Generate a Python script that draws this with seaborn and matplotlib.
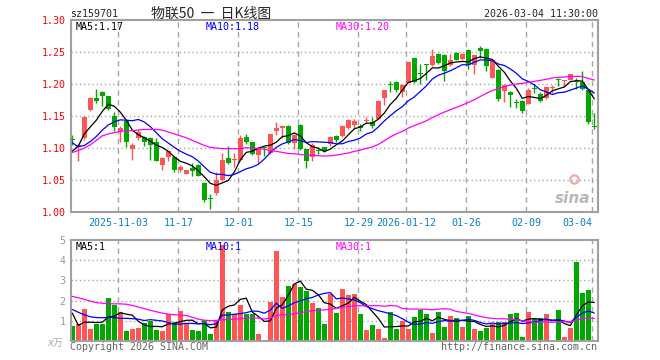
import pandas as pd
import numpy as np
import matplotlib

matplotlib.use("Agg")

import matplotlib.pyplot as plt
import seaborn as sns

# trading days shown (exchange holidays removed)
holidays = ["2026-01-01", "2026-01-02", "2026-02-16", "2026-02-17", "2026-02-18",
            "2026-02-19", "2026-02-20", "2026-02-23"]
dates = [d.strftime("%Y-%m-%d") for d in pd.bdate_range("2025-10-22", "2026-03-04")
         if d.strftime("%Y-%m-%d") not in holidays]

opens = [1.114, 1.101, 1.116, 1.160, 1.178, 1.188, 1.181, 1.150, 1.126, 1.142,
         1.099, 1.116, 1.117, 1.116, 1.110, 1.074, 1.086, 1.086, 1.066, 1.060,
         1.068, 1.074, 1.046, 1.021, 1.029, 1.050, 1.085, 1.081, 1.082, 1.117,
         1.109, 1.089, 1.101, 1.092, 1.127, 1.132, 1.135, 1.108, 1.136, 1.098,
         1.086, 1.096, 1.101, 1.106, 1.119, 1.118, 1.131, 1.136, 1.134, 1.142,
         1.140, 1.146, 1.178, 1.200, 1.203, 1.188, 1.202, 1.240, 1.217, 1.231,
         1.229, 1.247, 1.246, 1.229, 1.249, 1.239, 1.253, 1.229, 1.256, 1.255,
         1.210, 1.222, 1.189, 1.188, 1.172, 1.174, 1.169, 1.193, 1.185, 1.178,
         1.194, 1.207, 1.204, 1.207, 1.204, 1.203, 1.190, 1.134]
highs = [1.121, 1.106, 1.150, 1.179, 1.192, 1.189, 1.182, 1.157, 1.134, 1.143,
         1.108, 1.130, 1.118, 1.117, 1.115, 1.086, 1.096, 1.087, 1.074, 1.066,
         1.076, 1.075, 1.047, 1.028, 1.062, 1.092, 1.103, 1.092, 1.121, 1.122,
         1.110, 1.101, 1.102, 1.122, 1.141, 1.136, 1.136, 1.122, 1.137, 1.099,
         1.108, 1.101, 1.102, 1.118, 1.121, 1.136, 1.146, 1.145, 1.137, 1.149,
         1.148, 1.175, 1.190, 1.204, 1.204, 1.200, 1.235, 1.241, 1.232, 1.232,
         1.254, 1.248, 1.247, 1.247, 1.250, 1.248, 1.254, 1.246, 1.259, 1.256,
         1.238, 1.223, 1.200, 1.189, 1.177, 1.175, 1.193, 1.198, 1.187, 1.196,
         1.199, 1.209, 1.207, 1.216, 1.209, 1.221, 1.191, 1.154]
lows = [1.105, 1.080, 1.112, 1.158, 1.170, 1.165, 1.160, 1.126, 1.109, 1.101,
        1.082, 1.113, 1.103, 1.082, 1.079, 1.065, 1.079, 1.063, 1.063, 1.059,
        1.056, 1.056, 1.015, 1.004, 1.027, 1.049, 1.075, 1.071, 1.080, 1.107,
        1.089, 1.076, 1.087, 1.090, 1.120, 1.116, 1.107, 1.098, 1.097, 1.068,
        1.079, 1.091, 1.093, 1.103, 1.110, 1.117, 1.129, 1.131, 1.126, 1.139,
        1.131, 1.145, 1.167, 1.187, 1.187, 1.180, 1.201, 1.202, 1.200, 1.206,
        1.228, 1.232, 1.204, 1.228, 1.237, 1.238, 1.223, 1.216, 1.241, 1.220,
        1.209, 1.174, 1.172, 1.164, 1.163, 1.155, 1.168, 1.186, 1.172, 1.177,
        1.186, 1.197, 1.195, 1.206, 1.192, 1.191, 1.138, 1.130]
closes = [1.112, 1.105, 1.149, 1.178, 1.173, 1.181, 1.161, 1.133, 1.132, 1.110,
          1.104, 1.125, 1.109, 1.105, 1.080, 1.085, 1.095, 1.065, 1.071, 1.065,
          1.064, 1.057, 1.018, 1.020, 1.050, 1.082, 1.077, 1.083, 1.115, 1.109,
          1.091, 1.100, 1.100, 1.122, 1.132, 1.135, 1.108, 1.121, 1.098, 1.079,
          1.105, 1.095, 1.095, 1.117, 1.113, 1.135, 1.143, 1.142, 1.131, 1.143,
          1.135, 1.174, 1.190, 1.198, 1.191, 1.199, 1.234, 1.203, 1.216, 1.230,
          1.243, 1.233, 1.221, 1.237, 1.238, 1.247, 1.230, 1.246, 1.251, 1.228,
          1.237, 1.177, 1.199, 1.183, 1.171, 1.158, 1.191, 1.192, 1.174, 1.195,
          1.195, 1.206, 1.207, 1.215, 1.203, 1.192, 1.140, 1.133]
# volume in 万手
volumes = [0.73, 0.86, 1.57, 0.58, 0.83, 0.83, 2.14, 1.77, 1.42, 0.48,
           0.58, 0.63, 0.88, 1.00, 0.52, 0.49, 1.36, 0.95, 1.47, 0.85,
           0.52, 0.48, 1.03, 0.37, 1.03, 4.76, 1.43, 1.32, 1.77, 1.32,
           1.32, 0.36, 0.07, 1.92, 4.47, 2.16, 2.71, 2.84, 2.66, 2.46,
           1.89, 1.61, 0.86, 2.31, 1.38, 2.56, 2.26, 2.31, 1.33, 0.56,
           0.81, 0.61, 0.14, 1.43, 0.58, 0.98, 0.58, 1.18, 1.54, 1.32,
           0.39, 1.43, 0.68, 1.22, 1.13, 0.68, 1.23, 0.58, 0.48, 0.63,
           0.84, 0.96, 0.96, 1.36, 1.41, 0.22, 1.46, 1.11, 1.16, 1.36,
           0.07, 1.51, 0.22, 0.66, 3.92, 2.36, 2.51, 0.07]

# moving-average values at the left edge (their history lies before the window)
ma5_head = [1.095, 1.103, 1.122, 1.133]
ma10_head = [1.108, 1.102, 1.104, 1.110, 1.118, 1.128, 1.136, 1.141, 1.144]
ma30_head = [1.093, 1.096, 1.100, 1.105, 1.112, 1.119, 1.122, 1.124, 1.126, 1.127,
             1.127, 1.128, 1.129, 1.129, 1.129, 1.128, 1.125, 1.122, 1.119, 1.116,
             1.112, 1.108, 1.104, 1.101, 1.100, 1.099, 1.099, 1.099, 1.099]
vma5_head = [1.38, 0.78, 0.93, 0.93]
vma10_head = [1.56, 1.42, 1.30, 1.20, 1.16, 1.15, 1.17, 1.16, 1.12]
vma30_head = [2.21, 2.14, 2.06, 1.98, 1.90, 1.87, 1.84, 1.84, 1.84, 1.82,
              1.76, 1.68, 1.60, 1.52, 1.45, 1.38, 1.33, 1.30, 1.28, 1.26,
              1.18, 1.08, 1.03, 1.01, 1.02, 1.05, 1.06, 1.08, 1.10]

tick_dates = ["2025-11-03", "2025-11-17", "2025-12-01", "2025-12-15", "2025-12-29",
              "2026-01-12", "2026-01-26", "2026-02-09", "2026-03-04"]
tick_labels = ["2025-11-03", "11-17", "12-01", "12-15", "12-29",
               "2026-01-12", "01-26", "02-09", "03-04"]
price_ticks = [1.00, 1.05, 1.10, 1.15, 1.20, 1.25, 1.30]
volume_ticks = [1, 2, 3, 4, 5]


def moving_average(values, window, head):
    ma = pd.Series(values, dtype=float).rolling(window).mean()
    ma.iloc[:len(head)] = head
    return ma


RED = "#ff5555"
GREEN = "#00a800"
GRID = "#a8a8a8"
FRAME = "#a0a0a0"

sns.set_style("white")
plt.rcParams["font.family"] = ["DejaVu Sans Mono", "Noto Sans CJK SC"]

df = pd.DataFrame({"date": dates, "open": opens, "high": highs, "low": lows,
                   "close": closes, "volume": volumes})
df["x"] = np.arange(len(df))
df["ma5"] = moving_average(closes, 5, ma5_head)
df["ma10"] = moving_average(closes, 10, ma10_head)
df["ma30"] = moving_average(closes, 30, ma30_head)
df["vma5"] = moving_average(volumes, 5, vma5_head)
df["vma10"] = moving_average(volumes, 10, vma10_head)
df["vma30"] = moving_average(volumes, 30, vma30_head)
colors = np.where(df["close"] >= df["open"], RED, GREEN)

fig = plt.figure(figsize=(6.6, 3.6), dpi=100)
ax = fig.add_axes([71 / 660, 1 - 212 / 360, 527 / 660, 192 / 360])
axv = fig.add_axes([71 / 660, 1 - 341 / 360, 527 / 660, 101 / 360])

tick_pos = [dates.index(d) - 0.33 for d in tick_dates]

for a in (ax, axv):
    a.set_xlim(-0.22, len(df) - 0.38)
    for p in tick_pos:
        a.axvline(p, color=GRID, lw=1, ls=(0, (4, 3)), zorder=0)
    for s in a.spines.values():
        s.set_color(FRAME)
        s.set_linewidth(1.5)

# candlesticks
ax.vlines(df["x"], df["low"], df["high"], colors=colors, lw=1, zorder=2)
body_low = np.minimum(df["open"], df["close"])
body_h = np.maximum((df["close"] - df["open"]).abs(), 0.0014)
ax.bar(df["x"], body_h, bottom=body_low, width=0.8, color=colors, lw=0, zorder=3)

sns.lineplot(data=df, x="x", y="ma5", ax=ax, color="black", lw=0.9, zorder=4)
sns.lineplot(data=df, x="x", y="ma10", ax=ax, color="#0000ff", lw=0.9, zorder=4)
sns.lineplot(data=df, x="x", y="ma30", ax=ax, color="#ff00ff", lw=0.9, zorder=4)

ax.set_ylim(1.00, 1.30)
for v in price_ticks[1:-1]:
    ax.axhline(v, color=GRID, lw=1, ls=(0, (1, 2)), zorder=0)
ax.set_yticks(price_ticks)
ax.set_yticklabels([f"{v:.2f}" for v in price_ticks])
ax.set_xticks(tick_pos)
ax.set_xticklabels(tick_labels)
ax.tick_params(axis="y", colors="#ff0000", labelsize=7.2, length=0, pad=4)
ax.tick_params(axis="x", colors="#0a7ec8", labelsize=7.2, length=0, pad=4)
last = ax.get_xticklabels()[-1]
last.set_ha("right")
ax.set_xlabel("")
ax.set_ylabel("")

ax.text(0.008, 0.963, "MA5:1.17", transform=ax.transAxes, color="black",
        fontsize=7.2, va="center")
ax.text(0.255, 0.963, "MA10:1.18", transform=ax.transAxes, color="#0000ff",
        fontsize=7.2, va="center")
ax.text(0.502, 0.963, "MA30:1.20", transform=ax.transAxes, color="#ff00ff",
        fontsize=7.2, va="center")

# sina watermark
ax.text(0.985, 0.07, "sina", transform=ax.transAxes, color="#b8b8b8", fontsize=11,
        fontstyle="italic", fontweight="bold", ha="right", va="center",
        family="DejaVu Sans")
ax.plot([0.955], [0.17], transform=ax.transAxes, marker="o", ms=6,
        mfc="none", mec="#f0a8a8", mew=1.5)

# volume panel
axv.bar(df["x"], df["volume"], width=0.8, color=colors, lw=0, zorder=2)
sns.lineplot(data=df, x="x", y="vma5", ax=axv, color="black", lw=0.9, zorder=4)
sns.lineplot(data=df, x="x", y="vma10", ax=axv, color="#0000ff", lw=0.9, zorder=4)
sns.lineplot(data=df, x="x", y="vma30", ax=axv, color="#ff00ff", lw=0.9, zorder=4)
axv.set_ylim(0, 5)
for v in volume_ticks[:-1]:
    axv.axhline(v, color=GRID, lw=1, ls=(0, (1, 2)), zorder=0)
axv.set_yticks(volume_ticks)
axv.set_yticklabels([str(v) for v in volume_ticks])
axv.set_xticks([])
axv.tick_params(axis="y", colors="#999999", labelsize=7.2, length=0, pad=4)
axv.set_xlabel("")
axv.set_ylabel("")

axv.text(0.008, 0.933, "MA5:1", transform=axv.transAxes, color="black",
         fontsize=7.2, va="center")
axv.text(0.255, 0.933, "MA10:1", transform=axv.transAxes, color="#0000ff",
         fontsize=7.2, va="center")
axv.text(0.502, 0.933, "MA30:1", transform=axv.transAxes, color="#ff00ff",
         fontsize=7.2, va="center")

# header and footer texts
fig.text(70 / 660, 1 - 14 / 360, "sz159701", fontsize=7.2, va="center")
fig.text(151 / 660, 1 - 14 / 360, "物联50  一  日K线图", fontsize=10, va="center",
         family=["Noto Sans CJK SC", "DejaVu Sans"])
fig.text(598 / 660, 1 - 14 / 360, "2026-03-04 11:30:00", fontsize=7.2,
         va="center", ha="right")
fig.text(63 / 660, 1 - 343 / 360, "x万", fontsize=7.2, va="center", ha="right",
         color="#aaaaaa", fontstyle="italic",
         family=["DejaVu Sans", "Noto Sans CJK SC"])
fig.text(70 / 660, 1 - 347 / 360, "Copyright 2026 SINA.COM", fontsize=7.2,
         va="center", color="#666666")
fig.text(597 / 660, 1 - 347 / 360, "http://finance.sina.com.cn", fontsize=7.2,
         va="center", ha="right", color="#666666")

fig.savefig("out.png", dpi=100)
plt.close(fig)
